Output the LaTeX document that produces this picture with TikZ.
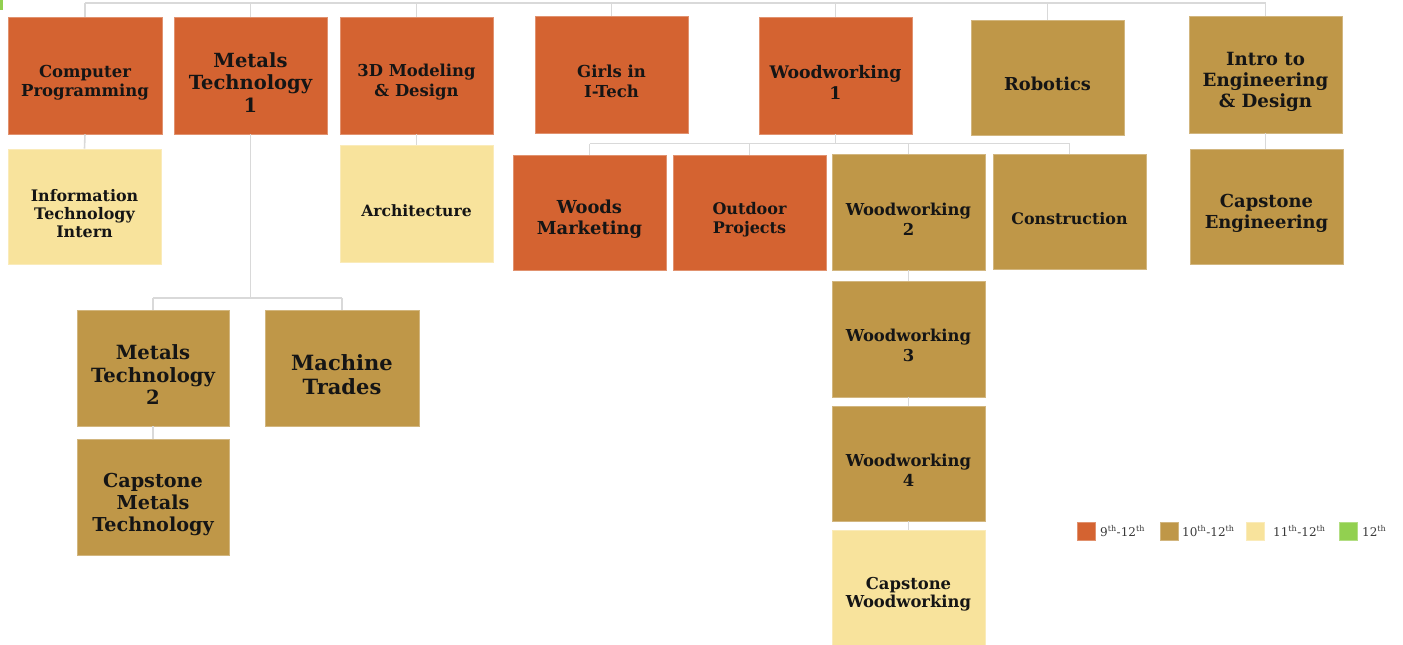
\documentclass[tikz,border=0pt]{standalone}
\usepackage{fontspec}
\setmainfont{DejaVu Serif}
\definecolor{corange}{HTML}{D46331}
\definecolor{ctan}{HTML}{BF9748}
\definecolor{cyel}{HTML}{F8E39C}
\definecolor{cgreen}{HTML}{92D050}
\definecolor{cline}{HTML}{D9D9D9}
\definecolor{ctext}{HTML}{151515}
\newcommand\boxstrut{\rule{0pt}{\dimexpr0.8em+13pt\relax}}
\tikzset{
  obox/.style={draw=#1!70!white, line width=0.8pt, fill=#1, minimum width=153pt, minimum height=116pt,
    inner sep=2pt, align=center, text=ctext},
  fs/.style 2 args={font=\bfseries\fontsize{#1}{#2}\selectfont},
  conn/.style={draw=cline, line width=1.6pt},
  legsq/.style={fill=#1, draw=#1!70!white, line width=0.5pt, minimum size=18pt, inner sep=0pt},
  legtx/.style={font=\fontsize{12}{14}\selectfont, text=ctext!85!white, anchor=west, inner sep=0pt}
}
\begin{document}
\begin{tikzpicture}[x=1pt,y=-1pt]
\useasboundingbox (0,0) rectangle (1403,645);
\fill[cgreen] (0,0) rectangle (3,10);
\coordinate (topbus) at (0,3);
% top row
\node[obox=corange, minimum width=154pt, minimum height=117pt, fs={16.5}{19.5}] (cp) at (85,75.5) {\boxstrut Computer\\Programming};
\node[obox=corange, minimum height=117pt, fs={19.5}{22.5}] (mt1) at (250.5,75.5) {\boxstrut Metals\\Technology\\1};
\node[obox=corange, minimum height=117pt, fs={16.4}{19.5}] (md) at (416.5,75.5) {\boxstrut 3D Modeling\\\& Design};
\node[obox=corange, minimum height=117pt, fs={16.5}{19.5}] (girls) at (611.5,74.5) {\boxstrut Girls in\\I-Tech};
\node[obox=corange, minimum height=117pt, fs={17.3}{20.5}] (ww1) at (835.5,75.5) {\boxstrut Woodworking\\1};
\node[obox=ctan, minimum height=115pt, fs={17.8}{21}] (rob) at (1047.5,77.5) {\boxstrut Robotics};
\node[obox=ctan, minimum height=117pt, fs={18.2}{21}] (intro) at (1265.5,74.5) {\boxstrut Intro to\\Engineering\\\& Design};
% second row
\node[obox=cyel, minimum height=115pt, fs={15.9}{18}] (iti) at (84.5,206.5) {\boxstrut Information\\Technology\\Intern};
\node[obox=cyel, minimum height=117pt, fs={15.6}{18}] (arch) at (416.5,203.5) {\boxstrut Architecture};
\node[obox=corange, minimum height=115pt, fs={17.9}{20.5}] (wm) at (589.5,212.5) {\boxstrut Woods\\Marketing};
\node[obox=corange, minimum height=115pt, fs={16}{19}] (op) at (749.5,212.5) {\boxstrut Outdoor\\Projects};
\node[obox=ctan, fs={16.4}{20}] (ww2) at (908.5,212) {\boxstrut Woodworking\\2};
\node[obox=ctan, minimum height=115pt, fs={15.9}{18}] (con) at (1069.5,211.5) {\boxstrut Construction};
\node[obox=ctan, minimum height=115pt, fs={17.9}{20.5}] (cape) at (1266.5,206.5) {\boxstrut Capstone\\Engineering};
% metals subtree
\node[obox=ctan, minimum width=152pt, fs={19.6}{22.5}] (mt2) at (153,368) {\boxstrut Metals\\Technology\\2};
\node[obox=ctan, minimum width=154pt, fs={21}{24}] (mach) at (342,368) {\boxstrut Machine\\Trades};
\node[obox=ctan, minimum width=152pt, fs={19.2}{22}] (capm) at (153,497) {\boxstrut Capstone\\Metals\\Technology};
% woodworking chain
\node[obox=ctan, fs={16.4}{20}] (ww3) at (908.5,339) {\boxstrut Woodworking\\3};
\node[obox=ctan, minimum height=115pt, fs={16.4}{20}] (ww4) at (908.5,463.5) {\boxstrut Woodworking\\4};
\node[obox=cyel, minimum height=115pt, fs={16.4}{18.5}] (capw) at (908.5,587.5) {\boxstrut Capstone\\Woodworking};
% connectors: top bus
\draw[conn] (cp.north |- topbus) -- (intro.north |- topbus);
\foreach \n in {cp,mt1,md,girls,ww1,rob,intro} {\draw[conn] (\n.north) -- (\n.north |- topbus);}
\draw[conn] (cp.south) -- (iti.north);
\draw[conn] (md.south) -- (arch.north);
\draw[conn] (intro.south) -- (intro.south |- cape.north);
% metals bus
\coordinate (mbus) at (0,298);
\draw[conn] (mt1.south) -- (mt1.south |- mbus);
\draw[conn] (mt2.north |- mbus) -- (mach.north |- mbus);
\draw[conn] (mt2.north) -- (mt2.north |- mbus);
\draw[conn] (mach.north) -- (mach.north |- mbus);
\draw[conn] (mt2.south) -- (capm.north);
% woodworking bus
\coordinate (wbus) at (0,143.5);
\draw[conn] (ww1.south) -- (ww1.south |- wbus);
\draw[conn] (wm.north |- wbus) -- (con.north |- wbus);
\foreach \n in {wm,op,ww2,con} {\draw[conn] (\n.north) -- (\n.north |- wbus);}
\draw[conn] (ww2.south) -- (ww3.north);
\draw[conn] (ww3.south) -- (ww4.north);
\draw[conn] (ww4.south) -- (capw.north);
% legend
\node[legsq=corange] (l1) at (1086.5,531) {};
\node[legtx] (t1) at (1100,531) {9\textsuperscript{th}-12\textsuperscript{th}};
\node[legsq=ctan] (l2) at (1169,531) {};
\node[legtx] (t2) at (1182,531) {10\textsuperscript{th}-12\textsuperscript{th}};
\node[legsq=cyel] (l3) at (1255.5,531) {};
\node[legtx] (t3) at (1273,531) {11\textsuperscript{th}-12\textsuperscript{th}};
\node[legsq=cgreen] (l4) at (1348,531) {};
\node[legtx] (t4) at (1362,531) {12\textsuperscript{th}};
\end{tikzpicture}
\end{document}
